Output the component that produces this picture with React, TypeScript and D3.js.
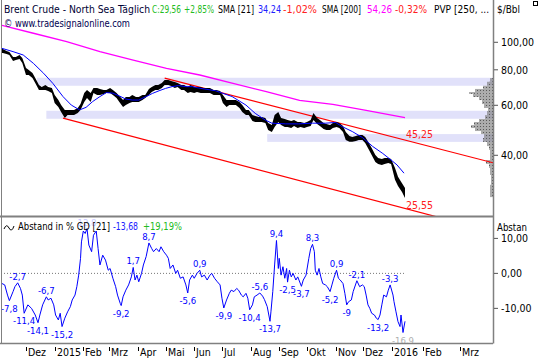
import React from "react";
import * as d3 from "d3";

// ---- price bars (sampled twice a week, high / low) ----
const priceDates = [
  "2014-11-03","2014-11-06","2014-11-10","2014-11-13","2014-11-17","2014-11-20","2014-11-24","2014-11-27",
  "2014-12-01","2014-12-04","2014-12-08","2014-12-11","2014-12-15","2014-12-18","2014-12-22","2014-12-25","2014-12-29",
  "2015-01-01","2015-01-05","2015-01-08","2015-01-12","2015-01-15","2015-01-19","2015-01-22","2015-01-26","2015-01-29",
  "2015-02-02","2015-02-05","2015-02-09","2015-02-12","2015-02-16","2015-02-19","2015-02-23","2015-02-26",
  "2015-03-02","2015-03-05","2015-03-09","2015-03-12","2015-03-16","2015-03-19","2015-03-23","2015-03-26","2015-03-30",
  "2015-04-02","2015-04-06","2015-04-09","2015-04-13","2015-04-16","2015-04-20","2015-04-23","2015-04-27","2015-04-30",
  "2015-05-04","2015-05-07","2015-05-11","2015-05-14","2015-05-18","2015-05-21","2015-05-25","2015-05-28",
  "2015-06-01","2015-06-04","2015-06-08","2015-06-11","2015-06-15","2015-06-18","2015-06-22","2015-06-25","2015-06-29",
  "2015-07-02","2015-07-06","2015-07-09","2015-07-13","2015-07-16","2015-07-20","2015-07-23","2015-07-27","2015-07-30",
  "2015-08-03","2015-08-06","2015-08-10","2015-08-13","2015-08-17","2015-08-20","2015-08-24","2015-08-27","2015-08-31",
  "2015-09-03","2015-09-07","2015-09-10","2015-09-14","2015-09-17","2015-09-21","2015-09-24","2015-09-28",
  "2015-10-01","2015-10-05","2015-10-08","2015-10-12","2015-10-15","2015-10-19","2015-10-22","2015-10-26","2015-10-29",
  "2015-11-02","2015-11-05","2015-11-09","2015-11-12","2015-11-16","2015-11-19","2015-11-23","2015-11-26","2015-11-30",
  "2015-12-03","2015-12-07","2015-12-10","2015-12-14","2015-12-17","2015-12-21","2015-12-24","2015-12-28","2015-12-31",
  "2016-01-04","2016-01-07","2016-01-11","2016-01-14",
];
const priceHigh = [
  94.7,94.7,93.2,92.4,88.8,88.8,90.2,88.0,
  81.2,79.9,78.0,74.9,70.7,69.6,70.7,69.6,69.0,
  65.2,62.6,60.1,57.8,57.8,57.8,57.8,58.7,60.6,
  66.3,67.9,66.3,69.0,69.0,68.5,67.9,67.9,
  69.0,67.9,66.3,64.7,62.6,64.2,64.2,65.2,64.2,
  64.2,65.2,65.2,68.5,69.6,70.7,70.7,71.9,73.7,
  73.7,73.1,72.5,71.9,70.7,70.7,69.6,70.7,
  69.6,69.6,69.6,69.0,69.0,69.0,67.9,67.9,67.4,
  65.2,62.6,62.6,62.6,62.6,61.6,60.1,57.8,57.8,
  55.5,55.0,54.6,54.6,54.1,52.0,51.1,55.5,56.8,
  54.1,53.7,53.2,52.8,53.2,52.4,52.4,52.0,
  52.4,53.2,56.4,54.1,53.2,52.0,51.6,51.1,52.0,
  52.4,52.0,50.7,48.3,46.8,46.4,46.8,47.2,47.2,
  46.4,44.2,42.4,40.1,39.1,38.8,39.1,39.1,38.8,
  36.1,33.6,31.9,30.7,
];
const priceLow = [
  91.7,91.7,90.9,90.2,85.9,86.6,87.3,84.5,
  76.7,76.7,74.9,71.9,67.9,67.9,67.9,67.4,66.3,
  61.1,59.2,56.8,54.1,55.5,55.5,55.5,56.4,57.8,
  61.6,63.7,61.6,66.3,65.2,65.2,65.8,66.3,
  66.3,65.2,63.7,61.6,59.2,60.1,61.1,61.6,61.6,
  61.6,62.6,63.7,65.2,66.8,67.9,67.9,69.0,70.7,
  70.7,70.2,69.0,69.6,67.9,67.9,66.3,66.8,
  66.3,66.8,66.3,66.3,66.3,66.3,65.2,65.2,65.2,
  61.1,59.2,60.1,60.1,60.1,58.7,56.8,55.5,55.5,
  52.8,52.4,52.4,52.4,52.0,49.1,48.3,50.3,52.4,
  51.1,50.3,50.3,49.9,50.7,49.9,50.3,49.9,
  50.3,50.7,53.2,51.6,50.7,49.5,49.1,49.1,49.9,
  50.3,49.9,48.3,45.3,44.6,44.6,44.9,45.3,45.3,
  44.2,41.8,40.1,37.9,37.3,37.0,37.3,37.6,37.3,
  32.8,31.2,29.7,28.3,
];

// ---- moving averages ----
const sma21Dates = [
  "2014-11-05","2014-11-17","2014-11-28","2014-12-09","2014-12-20","2014-12-30","2015-01-10","2015-01-19",
  "2015-01-28","2015-02-04","2015-02-11","2015-02-19","2015-02-26","2015-03-05","2015-03-12","2015-03-19",
  "2015-03-26","2015-04-02","2015-04-10","2015-04-17","2015-04-24","2015-05-01","2015-05-08","2015-05-15",
  "2015-05-23","2015-05-30","2015-06-06","2015-06-24","2015-07-12","2015-07-27","2015-08-06","2015-08-17",
  "2015-08-24","2015-09-08","2015-09-22","2015-10-07","2015-10-21","2015-11-01","2015-11-08","2015-11-19",
  "2015-11-30","2015-12-11","2015-12-22","2015-12-31","2016-01-06","2016-01-13",
];
const sma21Values = [
  95.2,92.7,90.2,84.3,77.8,71.7,64.4,60.1,
  57.8,59.0,61.8,64.4,66.5,66.2,64.7,63.1,
  62.6,62.6,64.4,66.1,67.5,68.8,69.8,70.4,
  69.8,69.8,69.0,67.5,64.4,60.1,56.2,53.2,
  51.9,51.6,51.6,51.9,51.9,52.2,50.5,48.5,
  46.2,43.0,40.6,38.5,37.0,34.6,
];
const sma200Dates = [
  "2014-11-03","2014-12-09","2015-01-14","2015-02-19","2015-03-27","2015-05-02","2015-06-07",
  "2015-07-13","2015-08-18","2015-09-23","2015-10-29","2015-12-04","2016-01-14",
];
const sma200Values = [115.1,107.6,100.5,92.7,86.6,81.0,76.7,71.7,67.0,62.4,60.4,57.6,54.3];

// ---- trend channel ----
const upperDates = ["2015-04-30", "2016-01-14"];
const upperValues = [74.8, 45.25];
const lowerDates = ["2015-01-10", "2016-01-14"];
const lowerValues = [54.1, 26.0];
const channelLabels = [45.25, 25.55];

// ---- price volume profile zones ----
const bandStart = ["2014-12-13", "2014-12-23", "2015-08-19"];
const bandHigh = [75.0, 57.4, 47.5];
const bandLow = [70.3, 53.8, 44.6];
const pvpEdges = [74.8,72.6,70.3,68.5,66.8,65.8,64.2,62.6,60.6,58.7,57.3,55.4,53.7,52.4,51.1,49.9,48.7,47.5,46.0,44.6,43.1,41.8,40.1,38.5,37.3,36.1,34.1,31.5,28.5];
const pvpVolume = [3,6,10,18,24,20,14,11,9,5,6,8,14,19,22,18,12,9,10,6,4,3,3,7,4,3,2,3];

// ---- Abstand in % GD [21] ----
const indDates = [
  "2014-11-05","2014-11-08","2014-11-11","2014-11-13","2014-11-17","2014-11-19","2014-11-22","2014-11-25","2014-11-27","2014-11-29",
  "2014-12-03","2014-12-07","2014-12-11","2014-12-14","2014-12-16","2014-12-19","2014-12-23","2014-12-25","2014-12-28","2014-12-31",
  "2015-01-02","2015-01-05","2015-01-07","2015-01-09","2015-01-12","2015-01-15","2015-01-18","2015-01-20","2015-01-23","2015-01-25",
  "2015-01-27","2015-01-29","2015-01-30","2015-02-01","2015-02-03","2015-02-05","2015-02-07","2015-02-10","2015-02-12","2015-02-15",
  "2015-02-17","2015-02-19","2015-02-22","2015-02-25","2015-02-28","2015-03-02","2015-03-05","2015-03-08","2015-03-10","2015-03-13",
  "2015-03-14","2015-03-16","2015-03-19","2015-03-22","2015-03-25","2015-03-27","2015-03-29","2015-03-31","2015-04-02","2015-04-05",
  "2015-04-07","2015-04-10","2015-04-13","2015-04-16","2015-04-18","2015-04-21","2015-04-24","2015-04-26","2015-04-29","2015-05-02",
  "2015-05-04","2015-05-06","2015-05-09","2015-05-12","2015-05-14","2015-05-17","2015-05-20","2015-05-23","2015-05-25","2015-05-27",
  "2015-05-30","2015-06-01","2015-06-04","2015-06-07","2015-06-09","2015-06-12","2015-06-15","2015-06-18","2015-06-20","2015-06-23",
  "2015-06-26","2015-06-29","2015-07-01","2015-07-03","2015-07-06","2015-07-09","2015-07-11","2015-07-14","2015-07-17","2015-07-19",
  "2015-07-22","2015-07-24","2015-07-27","2015-07-29","2015-07-31","2015-08-03","2015-08-05","2015-08-08","2015-08-11","2015-08-14",
  "2015-08-16","2015-08-19","2015-08-22","2015-08-23","2015-08-25","2015-08-27","2015-08-29","2015-08-31","2015-09-01","2015-09-03",
  "2015-09-05","2015-09-07","2015-09-09","2015-09-10","2015-09-12","2015-09-14","2015-09-16","2015-09-19","2015-09-21","2015-09-25",
  "2015-09-27","2015-09-30","2015-10-03","2015-10-05","2015-10-07","2015-10-09","2015-10-10","2015-10-12","2015-10-14","2015-10-16",
  "2015-10-18","2015-10-21","2015-10-23","2015-10-26","2015-10-28","2015-10-30","2015-11-02","2015-11-04","2015-11-06","2015-11-09",
  "2015-11-11","2015-11-13","2015-11-15","2015-11-18","2015-11-20","2015-11-24","2015-11-27","2015-11-30","2015-12-02","2015-12-04",
  "2015-12-06","2015-12-08","2015-12-10","2015-12-13","2015-12-15","2015-12-17","2015-12-19","2015-12-21","2015-12-23","2015-12-26",
  "2015-12-28","2015-12-30","2016-01-02","2016-01-03","2016-01-05","2016-01-07","2016-01-09","2016-01-10","2016-01-12","2016-01-14",
];
const indValues = [
  -2.9,-3.3,-6.2,-7.8,-5.2,-3.8,-2.7,-4.3,-6.2,-11.4,
  -9,-10,-11.9,-14.1,-11.9,-9,-6.7,-7.6,-7.1,-9,
  -11.9,-13.3,-11.4,-15.2,-12.8,-11,-9.5,-7.6,-6.2,-3.8,
  -0.5,4.3,9,12.1,11.4,12.8,8.1,6.2,10.9,12.1,
  7.1,2.4,5.2,3.8,0.9,1.4,-1.4,-3.8,-6.2,-8.6,
  -9.2,-6.7,-4.8,-3.3,-1,1.7,-1.9,-0.5,-2.4,0,
  2.4,4.8,8.7,7.1,6.2,7.1,6.2,7.6,6.2,5.2,
  4.3,1.4,2.4,0,0.9,-1.4,-1,-3.3,-5.6,-1.9,
  -0.5,-1.4,0,0.9,-1,-0.5,-1.9,-0.5,0,-1.4,
  -2.4,-3.3,-7.1,-9.9,-7.6,-5.7,-4.8,-5.2,-4.3,-4.8,
  -6.2,-6.7,-5.7,-7.1,-10.4,-9,-6.7,-6.2,-5.6,-6.5,
  -7.5,-9.5,-13.7,-11,-5.2,2.4,9.4,1.4,4.3,-0.5,
  1.9,-1.4,1.4,-2.5,0.9,-1,0,-1.9,-1,-3.7,
  -1.9,-0.5,4.3,7.1,8.3,6.2,0.9,-0.5,1.4,-1,
  -2.9,-3.3,-3.8,-5.2,-3.3,-1.4,0.9,-1.4,-1.9,-2.9,
  -5.7,-9,-8.1,-7.6,-5.2,-2.1,-3.8,-3.3,-3.8,-6.2,
  -9,-10,-11.4,-11.9,-12.8,-13.2,-11.9,-9,-6.2,-6.7,
  -4.8,-3.3,-6.2,-8.1,-11,-13.8,-15.2,-11.9,-16.9,-13.7,
];
const indLabelDates = [
  "2014-11-13","2014-11-22","2014-11-29","2014-12-14","2014-12-23","2015-01-09","2015-02-05","2015-03-14","2015-03-27",
  "2015-04-13","2015-05-25","2015-06-07","2015-07-03","2015-07-31","2015-08-11","2015-08-22","2015-08-29","2015-09-10",
  "2015-09-25","2015-10-07","2015-10-26","2015-11-02","2015-11-13","2015-11-24","2015-12-17","2015-12-30","2016-01-12",
];
const indLabelValues = [
  -7.8,-2.7,-11.4,-14.1,-6.7,-15.2,12.8,-9.2,1.7,
  8.7,-5.6,0.9,-9.9,-10.4,-5.6,-13.7,9.4,-2.5,
  -3.7,8.3,-5.2,0.9,-9,-2.1,-13.2,-3.3,-16.9,
];
const indLabelKinds = [
  "l","h","l","l","h","l","h","l","h",
  "h","l","h","l","l","h","l","h","l",
  "l","h","l","h","l","h","l","h","l",
];

const monthNames = ["Jan","Feb","Mrz","Apr","Mai","Jun","Jul","Aug","Sep","Okt","Nov","Dez"];
const priceTicks = [100, 80, 60, 40];
const indTicks = [10, 0, -10];

const parse = d3.timeParse("%Y-%m-%d");
const de = d3.formatLocale({ decimal: ",", thousands: ".", grouping: [3], currency: ["", " €"], minus: "-" });
const fmt2 = de.format(".2f");
const fmtLbl = de.format(".3~r");

const FONT = "'DejaVu Sans Condensed', 'Liberation Sans', sans-serif";
const GRID = "#808080";

// header piece: text squeezed to the width it takes in the reference
function HT({ x, y, w, fill, children }) {
  return (
    <text x={x} y={y} fill={fill} textLength={w} lengthAdjust="spacingAndGlyphs">
      {children}
    </text>
  );
}

export default function App() {
  const L = 1, R = 493, T = 0, PB = 216, IB = 343;

  const x = d3
    .scaleTime()
    .domain(["2014-12-01", "2016-01-01", "2016-02-01", "2016-03-01"].map((s) => parse(s)))
    .range([26, 392, 423, 460]);
  const y = d3.scaleLog().domain([24.45, 140.9]).range([PB, T]);
  const yi = d3.scaleLinear().domain([-19.9, 16.4]).range([IB, PB]);
  const vol = d3.scaleLinear().domain([0, d3.max(pvpVolume)]).range([0, 24]);

  const bars = priceDates.map((d, i) => ({ date: parse(d), high: priceHigh[i], low: priceLow[i] }));
  const ribbon = d3.area().x((d) => x(d.date)).y0((d) => y(d.low)).y1((d) => y(d.high))(bars);

  const maLine = (dates, vals, scale) =>
    d3.line().x((d) => x(d.date)).y((d) => scale(d.v))(dates.map((d, i) => ({ date: parse(d), v: vals[i] })));

  const sma21 = maLine(sma21Dates, sma21Values, y);
  const sma200 = maLine(sma200Dates, sma200Values, y);
  const ind = maLine(indDates, indValues, yi);

  const channel = (dates, vals) => {
    const x1 = x(parse(dates[0])), y1 = y(vals[0]);
    const x2 = x(parse(dates[1])), y2 = y(vals[1]);
    const k = (y2 - y1) / (x2 - x1);
    return { x1, y1, x2: R, y2: y1 + (R - x1) * k };
  };
  const up = channel(upperDates, upperValues);
  const lo = channel(lowerDates, lowerValues);

  const lastDate = parse(priceDates[priceDates.length - 1]);
  const months = d3.timeMonth.range(parse("2014-12-01"), parse("2016-03-02"));

  const sw = { fontFamily: FONT, fontSize: 10.5 };

  return (
    <svg width={540} height={360} style={{ position: "absolute", left: 0, top: 0, background: "#fff" }}>
      <defs>
        <clipPath id="cp">
          <rect x={L} y={T} width={R - L} height={PB - T} />
        </clipPath>
        <clipPath id="ci">
          <rect x={L} y={PB} width={R - L} height={IB - PB} />
        </clipPath>
        <pattern id="dots" width={3} height={3} patternUnits="userSpaceOnUse">
          <rect width={3} height={3} fill="rgba(120,120,120,0.62)" />
          <rect width={1} height={1} fill="rgba(70,70,70,0.8)" />
        </pattern>
      </defs>

      <g clipPath="url(#cp)">
        {bandStart.map((d, i) => (
          <rect key={i} x={x(parse(d))} y={y(bandHigh[i])} width={R - x(parse(d))}
            height={y(bandLow[i]) - y(bandHigh[i])} fill="#e1e1fa" />
        ))}
        {pvpVolume.map((v, i) => (
          <rect key={i} x={R - vol(v)} y={y(pvpEdges[i])} width={vol(v)}
            height={y(pvpEdges[i + 1]) - y(pvpEdges[i])} fill="url(#dots)" />
        ))}
        <path d={sma200} fill="none" stroke="#ff00ff" strokeWidth={1.3} />
        <line x1={up.x1} y1={up.y1} x2={up.x2} y2={up.y2} stroke="#ff0000" strokeWidth={1.2} />
        <line x1={lo.x1} y1={lo.y1} x2={lo.x2} y2={lo.y2} stroke="#ff0000" strokeWidth={1.2} />
        <path d={ribbon} fill="#000" />
        <path d={sma21} fill="none" stroke="#0000ff" strokeWidth={1} />
        {channelLabels.map((v, i) => (
          <text key={i} x={x(lastDate) + 1} y={y(v) - 2} fill="#ff2020" {...sw}>{fmt2(v)}</text>
        ))}
      </g>

      {/* header */}
      <g {...sw} fontSize={10}>
        <HT x={4} y={27} w={126} fill="#000050">© www.tradesignalonline.com</HT>
        <HT x={4} y={13} w={146} fill="#000033">Brent Crude - North Sea Täglich</HT>
        <HT x={152} y={13} w={29} fill="#22bb22">C:29,56</HT>
        <HT x={184} y={13} w={30} fill="#22bb22">+2,85%</HT>
        <HT x={218} y={13} w={36} fill="#000">SMA [21]</HT>
        <HT x={258} y={13} w={23} fill="#2020ff">34,24</HT>
        <HT x={283} y={13} w={34} fill="#ff2020">-1,02%</HT>
        <HT x={322} y={13} w={39} fill="#000">SMA [200]</HT>
        <HT x={367} y={13} w={25} fill="#ff00ff">54,26</HT>
        <HT x={395} y={13} w={32} fill="#ff2020">-0,32%</HT>
        <HT x={434} y={13} w={55} fill="#000">PVP [250, ...</HT>
        <HT x={497} y={13} w={23} fill="#000">$/Bbl</HT>
      </g>
      <rect x={533.5} y={1.5} width={4} height={4} fill="none" stroke="#000" strokeWidth={1} />

      {/* indicator panel */}
      <line x1={L} x2={x(lastDate)} y1={yi(0)} y2={yi(0)} stroke="#777" strokeDasharray="1,2" />
      <g clipPath="url(#ci)">
        <path d={ind} fill="none" stroke="#0000ff" strokeWidth={1} />
        {indLabelDates.map((d, i) => {
          const px = x(parse(d));
          const py = yi(indLabelValues[i]);
          const last = i === indLabelDates.length - 1;
          return (
            <text key={i} x={px} y={indLabelKinds[i] === "h" ? py - 3 : py + 11} textAnchor="middle"
              fill={last ? "#b0b0b0" : indLabelValues[i] > 12 ? "#c8c8ff" : "#0000ff"} {...sw} fontSize={9.5}>
              {fmtLbl(indLabelValues[i])}
            </text>
          );
        })}
      </g>
      <path d="M4,229 q2.5,-6 5,-1 t5,-2" fill="none" stroke="#000" strokeWidth={1} />
      <g {...sw} fontSize={10}>
        <HT x={18} y={230} w={92} fill="#000">Abstand in % GD [21]</HT>
        <HT x={113} y={230} w={25} fill="#2020ff">-13,68</HT>
        <HT x={143} y={230} w={39} fill="#22bb22">+19,19%</HT>
        <HT x={497} y={231} w={30} fill="#000">Abstan</HT>
      </g>

      {/* frame */}
      <line x1={1.5} x2={1.5} y1={0} y2={IB} stroke={GRID} />
      <line x1={R + 0.5} x2={R + 0.5} y1={0} y2={IB + 0.5} stroke={GRID} strokeWidth={1.5} />
      <line x1={0} x2={R} y1={PB + 0.5} y2={PB + 0.5} stroke={GRID} strokeWidth={2} />
      <line x1={0} x2={R} y1={IB + 0.5} y2={IB + 0.5} stroke={GRID} strokeWidth={1.5} />

      {/* right axes */}
      <g {...sw}>
        {priceTicks.map((t) => (
          <g key={t}>
            <line x1={R + 1} x2={R + 5} y1={y(t)} y2={y(t)} stroke="#555" />
            <text x={501} y={y(t) + 4} fill="#000">{fmt2(t)}</text>
          </g>
        ))}
        {indTicks.map((t) => (
          <g key={t}>
            <line x1={R + 1} x2={R + 5} y1={yi(t)} y2={yi(t)} stroke="#555" />
            <text x={501} y={yi(t) + 4} fill="#000">{fmt2(t)}</text>
          </g>
        ))}
      </g>

      {/* time axis */}
      <g {...sw}>
        {months.map((m, i) => {
          const px = Math.round(x(m)) + 0.5;
          return (
            <g key={i}>
              <line x1={px} x2={px} y1={347} y2={351} stroke="#000" />
              <text x={px + 1.5} y={356} fill="#000">
                {m.getMonth() === 0 ? String(m.getFullYear()) : monthNames[m.getMonth()]}
              </text>
            </g>
          );
        })}
      </g>
    </svg>
  );
}
